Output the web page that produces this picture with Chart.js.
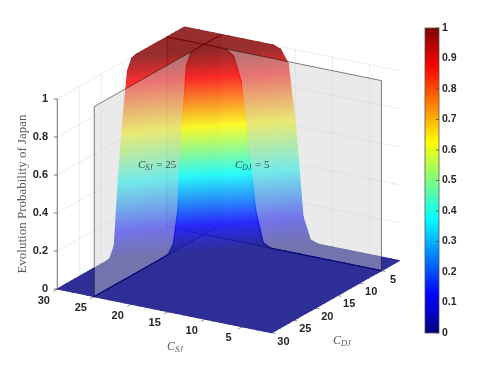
<!DOCTYPE html>
<html><head><meta charset="utf-8">
<style>html,body{margin:0;padding:0;background:#fff}canvas{display:block;filter:blur(0.35px)}</style>
<script src="https://cdn.jsdelivr.net/npm/chart.js@4"></script>
</head><body><canvas id="c" width="498" height="374"></canvas>
<script>
const csjValues=[1,2,3,4,5,6,7,8,9,10,11,12,13,14,15,16,17,18,19,20,21,22,23,24,25,26,27,28,29,30];
const cdjValues=[1,2,3,4,5,6,7,8,9,10,11,12,13,14,15,16,17,18,19,20,21,22,23,24,25,26,27,28,29,30];
// evolution probability of Japan: one row per C_DJ, one column per C_SJ
const evolutionProb=[
[0,0,0,0,0,0,0,0,0,0,0,0,.015,.13,.6,.92,.985,1,1,1,1,1,1,1,1,1,1,1,1,1],
[0,0,0,0,0,0,0,0,0,0,0,0,0,.015,.14,.58,.91,.98,.998,1,1,1,1,1,1,1,1,1,1,1],
[0,0,0,0,0,0,0,0,0,0,0,0,0,0,.015,.15,.55,.89,.98,.998,1,1,1,1,1,1,1,1,1,1],
[0,0,0,0,0,0,0,0,0,0,0,0,0,0,0,.02,.16,.52,.87,.975,.998,1,1,1,1,1,1,1,1,1],
[0,0,0,0,0,0,0,0,0,0,0,0,0,0,0,0,.02,.18,.5,.85,.97,.998,1,1,1,1,1,1,1,1],
[0,0,0,0,0,0,0,0,0,0,0,0,0,0,0,0,0,.015,.15,.45,.8,.96,.995,1,1,1,1,1,1,1],
[0,0,0,0,0,0,0,0,0,0,0,0,0,0,0,0,0,0,.01,.12,.38,.76,.95,.995,1,1,1,1,1,1],
[0,0,0,0,0,0,0,0,0,0,0,0,0,0,0,0,0,0,0,.01,.09,.32,.7,.94,.995,1,1,1,1,1],
[0,0,0,0,0,0,0,0,0,0,0,0,0,0,0,0,0,0,0,0,.005,.07,.27,.66,.94,.996,1,1,1,1],
[0,0,0,0,0,0,0,0,0,0,0,0,0,0,0,0,0,0,0,0,0,.005,.05,.23,.62,.93,.995,1,1,1],
[0,0,0,0,0,0,0,0,0,0,0,0,0,0,0,0,0,0,0,0,0,0,.005,.04,.2,.6,.93,.995,1,1],
[0,0,0,0,0,0,0,0,0,0,0,0,0,0,0,0,0,0,0,0,0,0,0,.005,.04,.22,.6,.93,.995,1],
[0,0,0,0,0,0,0,0,0,0,0,0,0,0,0,0,0,0,0,0,0,0,0,0,.005,.04,.27,.63,.93,.993],
[0,0,0,0,0,0,0,0,0,0,0,0,0,0,0,0,0,0,0,0,0,0,0,0,0,.005,.05,.32,.66,.94],
[0,0,0,0,0,0,0,0,0,0,0,0,0,0,0,0,0,0,0,0,0,0,0,0,0,0,.005,.05,.37,.7],
[0,0,0,0,0,0,0,0,0,0,0,0,0,0,0,0,0,0,0,0,0,0,0,0,0,0,0,.004,.06,.43],
[0,0,0,0,0,0,0,0,0,0,0,0,0,0,0,0,0,0,0,0,0,0,0,0,0,0,0,0,.004,.06],
[0,0,0,0,0,0,0,0,0,0,0,0,0,0,0,0,0,0,0,0,0,0,0,0,0,0,0,0,0,.004],
[0,0,0,0,0,0,0,0,0,0,0,0,0,0,0,0,0,0,0,0,0,0,0,0,0,0,0,0,0,0],
[0,0,0,0,0,0,0,0,0,0,0,0,0,0,0,0,0,0,0,0,0,0,0,0,0,0,0,0,0,0],
[0,0,0,0,0,0,0,0,0,0,0,0,0,0,0,0,0,0,0,0,0,0,0,0,0,0,0,0,0,0],
[0,0,0,0,0,0,0,0,0,0,0,0,0,0,0,0,0,0,0,0,0,0,0,0,0,0,0,0,0,0],
[0,0,0,0,0,0,0,0,0,0,0,0,0,0,0,0,0,0,0,0,0,0,0,0,0,0,0,0,0,0],
[0,0,0,0,0,0,0,0,0,0,0,0,0,0,0,0,0,0,0,0,0,0,0,0,0,0,0,0,0,0],
[0,0,0,0,0,0,0,0,0,0,0,0,0,0,0,0,0,0,0,0,0,0,0,0,0,0,0,0,0,0],
[0,0,0,0,0,0,0,0,0,0,0,0,0,0,0,0,0,0,0,0,0,0,0,0,0,0,0,0,0,0],
[0,0,0,0,0,0,0,0,0,0,0,0,0,0,0,0,0,0,0,0,0,0,0,0,0,0,0,0,0,0],
[0,0,0,0,0,0,0,0,0,0,0,0,0,0,0,0,0,0,0,0,0,0,0,0,0,0,0,0,0,0],
[0,0,0,0,0,0,0,0,0,0,0,0,0,0,0,0,0,0,0,0,0,0,0,0,0,0,0,0,0,0],
[0,0,0,0,0,0,0,0,0,0,0,0,0,0,0,0,0,0,0,0,0,0,0,0,0,0,0,0,0,0]
];
const csjTicks=[5,10,15,20,25,30];
const cdjTicks=[5,10,15,20,25,30];
const zTicks=[0,0.2,0.4,0.6,0.8,1];
const colorbarTicks=[0,0.1,0.2,0.3,0.4,0.5,0.6,0.7,0.8,0.9,1];
const sliceCSJ=25, sliceCDJ=5;
const jetStops=[[0,[0,0,128]],[0.125,[0,0,255]],[0.375,[0,255,255]],[0.625,[255,255,0]],[0.875,[255,0,0]],[1,[128,0,0]]];

// orthographic view of the 3-D box, in plot-plane units
const VIEW={ox:399,oy:260.7,cu:-7.393,cv:-1.507,du:-4.39,dv:2.483,zv:-190};
const project=(c,d,z)=>({x:VIEW.ox+VIEW.cu*(c-1)+VIEW.du*(d-1), y:VIEW.oy+VIEW.cv*(c-1)+VIEW.dv*(d-1)+VIEW.zv*z});

const nodes=[];
cdjValues.forEach((d,j)=>csjValues.forEach((c,i)=>nodes.push(project(c,d,evolutionProb[j][i]))));

const TOP=28,BOTTOM=333;
const jetAt=v=>{
  for(let k=1;k<jetStops.length;k++){
    if(v<=jetStops[k][0]){
      const [a,ca]=jetStops[k-1],[b,cb]=jetStops[k],t=(v-a)/(b-a);
      return 'rgb('+ca.map((q,n)=>Math.round(q+(cb[n]-q)*t)).join(',')+')';
    }
  }
  return 'rgb(128,0,0)';
};

function triangle(ctx,p,z){
  const zmin=Math.min(z[0],z[1],z[2]),zmax=Math.max(z[0],z[1],z[2]);
  let style;
  if(zmax-zmin<1e-6){style=jetAt(zmin);}
  else{
    const ax=p[1].x-p[0].x,ay=p[1].y-p[0].y,bx=p[2].x-p[0].x,by=p[2].y-p[0].y;
    const det=ax*by-ay*bx;
    if(Math.abs(det)<1e-6)return;
    const za=z[1]-z[0],zb=z[2]-z[0];
    const gx=(za*by-zb*ay)/det,gy=(zb*ax-za*bx)/det,g2=gx*gx+gy*gy;
    const im=z.indexOf(zmin),s=(zmax-zmin)/g2;
    const g=ctx.createLinearGradient(p[im].x,p[im].y,p[im].x+gx*s,p[im].y+gy*s);
    g.addColorStop(0,jetAt(zmin));g.addColorStop(1,jetAt(zmax));
    for(const [v] of jetStops){if(v>zmin&&v<zmax)g.addColorStop((v-zmin)/(zmax-zmin),jetAt(v));}
    style=g;
  }
  ctx.fillStyle=style;ctx.strokeStyle=style;ctx.lineWidth=1.2;ctx.lineJoin='round';
  ctx.beginPath();ctx.moveTo(p[0].x,p[0].y);ctx.lineTo(p[1].x,p[1].y);ctx.lineTo(p[2].x,p[2].y);ctx.closePath();
  ctx.fill();ctx.stroke();
}

const SURF_ALPHA=0.82;
function drawGroup(ctx,meta,test){
  const off=document.createElement('canvas');off.width=ctx.canvas.width;off.height=ctx.canvas.height;
  const o=off.getContext('2d');
  const n=csjValues.length;
  const P=(i,j)=>meta.data[j*n+i];
  for(let i=n-2;i>=0;i--){
    for(let j=0;j<cdjValues.length-1;j++){
      if(!test(csjValues[i],csjValues[i+1],cdjValues[j],cdjValues[j+1]))continue;
      const Z=evolutionProb;
      triangle(o,[P(i,j),P(i+1,j),P(i+1,j+1)],[Z[j][i],Z[j][i+1],Z[j+1][i+1]]);
      triangle(o,[P(i,j),P(i+1,j+1),P(i,j+1)],[Z[j][i],Z[j+1][i+1],Z[j+1][i]]);
    }
  }
  ctx.save();ctx.globalAlpha=SURF_ALPHA;ctx.drawImage(off,0,0);ctx.restore();
}

function subLabel(ctx,x,y,main,sub,rest,size,color){
  ctx.save();ctx.fillStyle=color;ctx.textAlign='left';ctx.textBaseline='alphabetic';
  ctx.font='italic '+size+'px "Liberation Serif"';ctx.fillText(main,x,y);
  let w=ctx.measureText(main).width;
  ctx.font='italic '+(size*0.7)+'px "Liberation Serif"';ctx.fillText(sub,x+w,y+2);
  w+=ctx.measureText(sub).width;
  if(rest){ctx.font=size+'px "Liberation Serif"';ctx.fillText(rest,x+w+1,y);}
  ctx.restore();
}

const plugin3d={
  id:'surface3d',
  beforeDatasetsDraw(chart){
    const ctx=chart.ctx,sx=chart.scales.x,sy=chart.scales.y,cb=chart.scales.cb;
    const meta=chart.getDatasetMeta(0);
    const px=(c,d,z)=>{const q=project(c,d,z);return {x:sx.getPixelForValue(q.x),y:sy.getPixelForValue(q.y)};};
    const cMin=csjValues[0],cMax=csjValues[csjValues.length-1],dMin=cdjValues[0],dMax=cdjValues[cdjValues.length-1];
    const line=(a,b,col,w)=>{ctx.strokeStyle=col;ctx.lineWidth=w;ctx.beginPath();ctx.moveTo(a.x,a.y);ctx.lineTo(b.x,b.y);ctx.stroke();};
    // back walls and grid
    const GRID='rgba(0,0,0,0.10)',FLOOR='rgba(0,0,0,0.05)';
    zTicks.forEach(z=>{line(px(cMax,dMax,z),px(cMax,dMin,z),GRID,0.8);line(px(cMax,dMin,z),px(cMin,dMin,z),GRID,0.8);});
    csjTicks.forEach(c=>{line(px(c,dMin,0),px(c,dMin,1),GRID,0.8);line(px(c,dMin,0),px(c,dMax,0),FLOOR,0.8);});
    cdjTicks.forEach(d=>{line(px(cMax,d,0),px(cMax,d,1),GRID,0.8);line(px(cMax,d,0),px(cMin,d,0),FLOOR,0.8);});

    const EDGE='rgba(0,0,0,0.7)';
    const panelPiece=(a,b,endA,endB)=>{ // a,b are [c,d] end points
      const a0=px(a[0],a[1],0),a1=px(a[0],a[1],1),b0=px(b[0],b[1],0),b1=px(b[0],b[1],1);
      ctx.fillStyle='rgba(206,206,206,0.43)';
      ctx.beginPath();ctx.moveTo(a0.x,a0.y);ctx.lineTo(a1.x,a1.y);ctx.lineTo(b1.x,b1.y);ctx.lineTo(b0.x,b0.y);ctx.closePath();ctx.fill();
      line(a1,b1,EDGE,0.7);line(a0,b0,EDGE,0.7);
      if(endA)line(a0,a1,EDGE,0.7);
      if(endB)line(b0,b1,EDGE,0.7);
    };
    drawGroup(ctx,meta,(c0,c1,d0,d1)=>c0>=sliceCSJ&&d1<=sliceCDJ);
    panelPiece([sliceCSJ,dMin],[sliceCSJ,sliceCDJ],false,false);
    panelPiece([cMax,sliceCDJ],[sliceCSJ,sliceCDJ],true,false);
    drawGroup(ctx,meta,(c0,c1,d0,d1)=>(c0>=sliceCSJ&&d0>=sliceCDJ)||(c1<=sliceCSJ&&d1<=sliceCDJ));
    panelPiece([sliceCSJ,dMax],[sliceCSJ,sliceCDJ],true,false);
    panelPiece([cMin,sliceCDJ],[sliceCSJ,sliceCDJ],true,false);
    drawGroup(ctx,meta,(c0,c1,d0,d1)=>c1<=sliceCSJ&&d0>=sliceCDJ);

    // slice annotations
    subLabel(ctx,138,168,'C','SJ',' = 25',11,'rgba(25,35,35,0.8)');
    subLabel(ctx,235,168,'C','DJ',' = 5',11,'rgba(25,35,35,0.8)');

    // z axis line and 3-D ticks
    const AX='#555555';
    line(px(cMax,dMax,0),px(cMax,dMax,1),AX,0.8);
    zTicks.forEach(z=>{const a=px(cMax,dMax,z);line({x:a.x-3.5,y:a.y},a,AX,0.8);});
    // csj / cdj tick marks and labels
    ctx.font='bold 11px "Liberation Sans"';ctx.textAlign='center';ctx.textBaseline='middle';
    csjTicks.forEach(c=>{
      const a=px(c,dMax,0),b=px(c,dMax+0.9,0);line(a,b,AX,0.7);
      ctx.fillStyle='#262626';ctx.fillText(String(c),a.x-13.5,a.y+11.5);
    });
    cdjTicks.forEach(d=>{
      const a=px(cMin,d,0),b=px(cMin-0.5,d,0);line(a,b,AX,0.7);
      ctx.fillStyle='#262626';ctx.fillText(String(d),a.x+11.7,a.y+9);
    });
    // axis titles
    subLabel(ctx,167,350,'C','SJ','',12,'#5a5a5a');
    subLabel(ctx,333,344,'C','DJ','',12,'#5a5a5a');
    ctx.save();ctx.translate(26,194);ctx.rotate(-Math.PI/2);
    ctx.font='13px "Liberation Serif"';ctx.fillStyle='#5a5a5a';ctx.textAlign='center';ctx.textBaseline='alphabetic';
    ctx.fillText('Evolution Probability of Japan',0,0);ctx.restore();

    // colour bar
    const yB=cb.getPixelForValue(0),yT=cb.getPixelForValue(1),xR=cb.left,xL=xR-14;
    const g=ctx.createLinearGradient(0,yB,0,yT);
    jetStops.forEach(([v])=>g.addColorStop(v,jetAt(v)));
    ctx.fillStyle=g;ctx.fillRect(xL,yT,xR-xL,yB-yT);
    ctx.strokeStyle='#555555';ctx.lineWidth=0.8;ctx.strokeRect(xL,yT,xR-xL,yB-yT);
    colorbarTicks.forEach(v=>{const y=cb.getPixelForValue(v);line({x:xR-3,y},{x:xR,y},'#444444',0.8);});
  }
};

new Chart(document.getElementById('c'),{
  type:'scatter',
  data:{datasets:[{label:'Evolution Probability of Japan',data:nodes,pointRadius:0,showLine:false}]},
  options:{
    responsive:false,animation:false,
    layout:{padding:{left:0,right:0,top:TOP,bottom:374-BOTTOM}},
    plugins:{legend:{display:false},tooltip:{enabled:false}},
    scales:{
      x:{type:'linear',display:false,min:0,max:439},
      y:{type:'linear',display:false,min:TOP,max:BOTTOM,reverse:true},
      z:{type:'linear',axis:'y',position:{x:48},
         min:-(BOTTOM-289)/190,max:1+(99-TOP)/190,
         afterBuildTicks:s=>{s.ticks=zTicks.map(value=>({value}));},
         grid:{display:false},border:{display:false},
         ticks:{autoSkip:false,padding:0,color:'#262626',font:{family:'"Liberation Sans"',size:11,weight:'bold'},callback:v=>String(v)}},
      cb:{type:'linear',axis:'y',position:'right',min:0,max:1,
         afterFit:s=>{s.width=59;},
         afterBuildTicks:s=>{s.ticks=colorbarTicks.map(value=>({value}));},
         grid:{display:false,drawTicks:false},border:{display:false},
         ticks:{autoSkip:false,padding:3,color:'#262626',font:{family:'"Liberation Sans"',size:10.5,weight:'bold'},callback:v=>String(v)}}
    }
  },
  plugins:[plugin3d]
});
</script>
</body></html>
